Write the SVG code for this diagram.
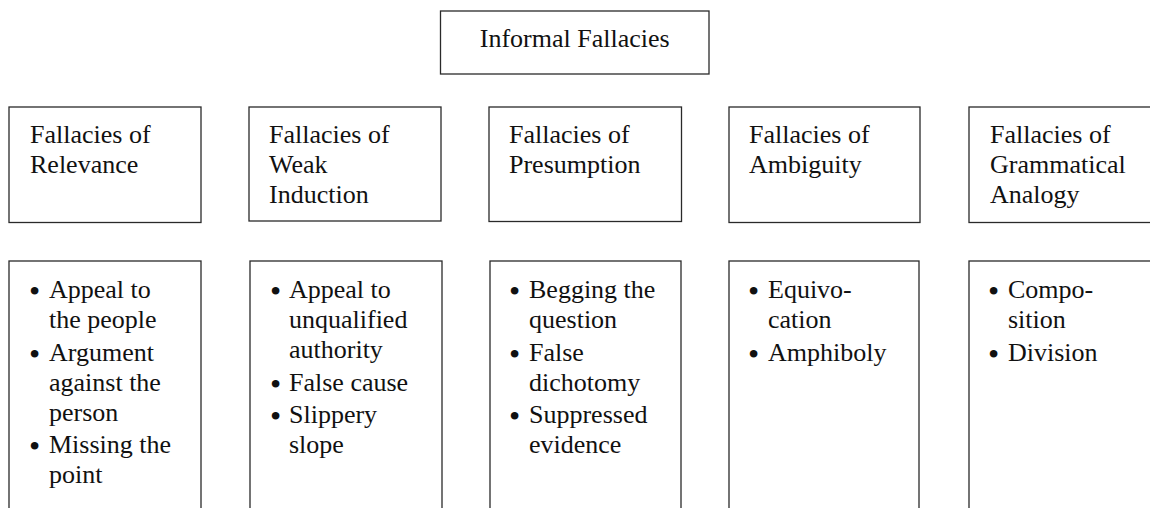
<svg xmlns="http://www.w3.org/2000/svg" width="1150" height="508" viewBox="0 0 1150 508">
<style>
rect{fill:#fff;stroke:#2a2a2a;stroke-width:1.3}
text{font-size:26px;fill:#111}
.b{font-size:32px}
</style>
<rect x="0" y="0" width="1150" height="508" style="stroke:none"/>
<g id="connectors"/>
<g font-family="Liberation Serif, Tinos, Times New Roman, Times, serif">
<g id="root">
<rect x="440.5" y="11" width="268.5" height="63"/>
<text x="574.7" y="46.7" text-anchor="middle">Informal Fallacies</text>
</g>
<g id="cat-relevance">
<rect x="9" y="107" width="192" height="115.5"/>
<text x="30" y="142.7">Fallacies of</text>
<text x="30" y="172.7">Relevance</text>
</g>
<g id="cat-weak-induction">
<rect x="249" y="107" width="192" height="114"/>
<text x="269" y="142.7">Fallacies of</text>
<text x="269" y="172.7">Weak</text>
<text x="269" y="202.7">Induction</text>
</g>
<g id="cat-presumption">
<rect x="489" y="107" width="192.5" height="114.5"/>
<text x="509" y="142.7">Fallacies of</text>
<text x="509" y="172.7">Presumption</text>
</g>
<g id="cat-ambiguity">
<rect x="729" y="107" width="191" height="115.5"/>
<text x="749" y="142.7">Fallacies of</text>
<text x="749" y="172.7">Ambiguity</text>
</g>
<g id="cat-grammatical">
<rect x="969" y="107" width="200" height="115.5"/>
<text x="990" y="142.7">Fallacies of</text>
<text x="990" y="172.7">Grammatical</text>
<text x="990" y="202.7">Analogy</text>
</g>
<g id="list-relevance">
<rect x="9" y="261" width="192" height="270"/>
<text class="b" x="29" y="302">•</text><text x="49" y="298">Appeal to</text>
<text x="49" y="328">the people</text>
<text class="b" x="29" y="364.5">•</text><text x="49" y="360.5">Argument</text>
<text x="49" y="390.5">against the</text>
<text x="49" y="420.5">person</text>
<text class="b" x="29" y="457">•</text><text x="49" y="453">Missing the</text>
<text x="49" y="483">point</text>
</g>
<g id="list-weak-induction">
<rect x="250" y="261" width="192" height="270"/>
<text class="b" x="270" y="302">•</text><text x="289" y="298">Appeal to</text>
<text x="289" y="328">unqualified</text>
<text x="289" y="358">authority</text>
<text class="b" x="270" y="394.5">•</text><text x="289" y="390.5">False cause</text>
<text class="b" x="270" y="427">•</text><text x="289" y="423">Slippery</text>
<text x="289" y="453">slope</text>
</g>
<g id="list-presumption">
<rect x="490" y="261" width="191" height="270"/>
<text class="b" x="509" y="302">•</text><text x="529" y="298">Begging the</text>
<text x="529" y="328">question</text>
<text class="b" x="509" y="364.5">•</text><text x="529" y="360.5">False</text>
<text x="529" y="390.5">dichotomy</text>
<text class="b" x="509" y="427">•</text><text x="529" y="423">Suppressed</text>
<text x="529" y="453">evidence</text>
</g>
<g id="list-ambiguity">
<rect x="729" y="261" width="190" height="270"/>
<text class="b" x="748" y="302">•</text><text x="768" y="298">Equivo-</text>
<text x="768" y="328">cation</text>
<text class="b" x="748" y="364.5">•</text><text x="768" y="360.5">Amphiboly</text>
</g>
<g id="list-grammatical">
<rect x="969" y="261" width="200" height="270"/>
<text class="b" x="988" y="302">•</text><text x="1008" y="298">Compo-</text>
<text x="1008" y="328">sition</text>
<text class="b" x="988" y="364.5">•</text><text x="1008" y="360.5">Division</text>
</g>
</g>
</svg>
